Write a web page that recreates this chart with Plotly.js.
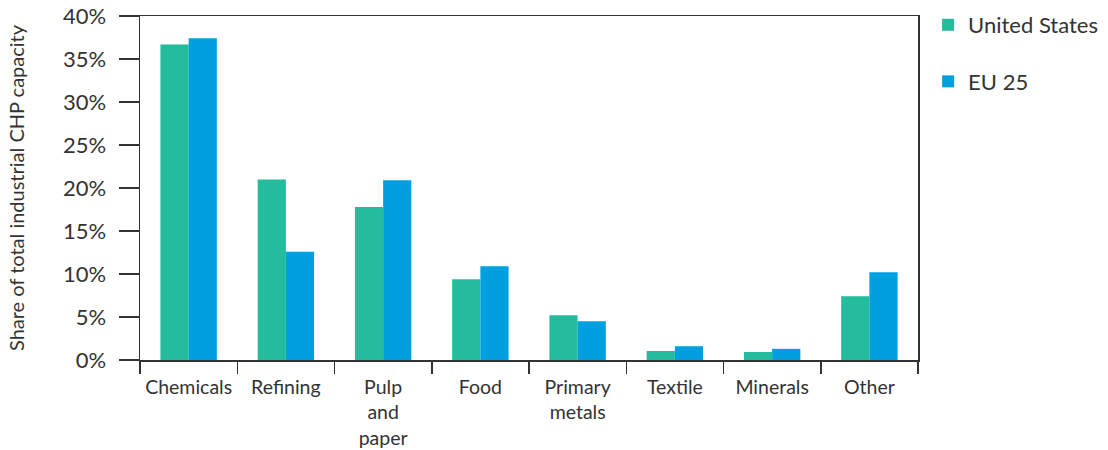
<!DOCTYPE html>
<html>
<head>
<meta charset="utf-8">
<script src="https://cdn.plot.ly/plotly-3.0.1.min.js"></script>
<style>html,body{margin:0;padding:0;background:#fff;}#chart{width:1108px;height:450px;}</style>
</head>
<body>
<div id="chart"></div>
<script>
const categories = ["Chemicals", "Refining", "Pulp<br>and<br>paper", "Food", "Primary<br>metals", "Textile", "Minerals", "Other"];
const usValues = [36.7, 21.0, 17.8, 9.4, 5.2, 1.05, 0.93, 7.4];
const euValues = [37.4, 12.6, 20.9, 10.9, 4.5, 1.6, 1.3, 10.2];
const seriesNames = ["United States", "EU 25"];
const yTickVals = [0, 5, 10, 15, 20, 25, 30, 35, 40];
const yTickText = ["0%", "5%", "10%", "15%", "20%", "25%", "30%", "35%", "40%"];

const FONT = "Lato, 'Open Sans', sans-serif";
const TXT = "#333333";

const data = [
  {type: "bar", name: seriesNames[0], x: categories, y: usValues, marker: {color: "#23BC9C"}, legendgroup: "a"},
  {type: "bar", name: seriesNames[1], x: categories, y: euValues, marker: {color: "#009FE0"}, legendgroup: "b"}
];

const layout = {
  width: 1108, height: 450,
  margin: {l: 140, r: 190, t: 16, b: 90, autoexpand: false},
  paper_bgcolor: "#fff", plot_bgcolor: "#fff",
  font: {family: FONT, color: TXT, size: 20},
  barmode: "group",
  bargap: 0.42, bargroupgap: 0,
  showlegend: true,
  legend: {x: 1.013, y: 1.035, xanchor: "left", yanchor: "top", font: {size: 22, color: TXT},
           tracegroupgap: 25, traceorder: "grouped", itemwidth: 30},
  xaxis: {
    type: "category", showline: true, linecolor: TXT, linewidth: 1.5, mirror: true,
    ticks: "outside", ticklen: 12, tickcolor: TXT, tickwidth: 1.5, tickson: "boundaries",
    ticklabelstandoff: 9, tickangle: 0,
    showgrid: false, zeroline: false, tickfont: {size: 19.5, color: TXT}, fixedrange: true
  },
  yaxis: {
    range: [0, 40], tickvals: yTickVals, ticktext: yTickText,
    showline: true, linecolor: TXT, linewidth: 1.5, mirror: true,
    ticks: "outside", ticklen: 20, tickcolor: TXT, tickwidth: 1.5, ticklabelstandoff: 8,
    showgrid: false, zeroline: false, tickfont: {size: 22, color: TXT},
    title: {text: "Share of total industrial CHP capacity", font: {size: 20, color: TXT}, standoff: 33},
    fixedrange: true
  }
};

Plotly.newPlot("chart", data, layout, {staticPlot: true, displayModeBar: false});
</script>
</body>
</html>
